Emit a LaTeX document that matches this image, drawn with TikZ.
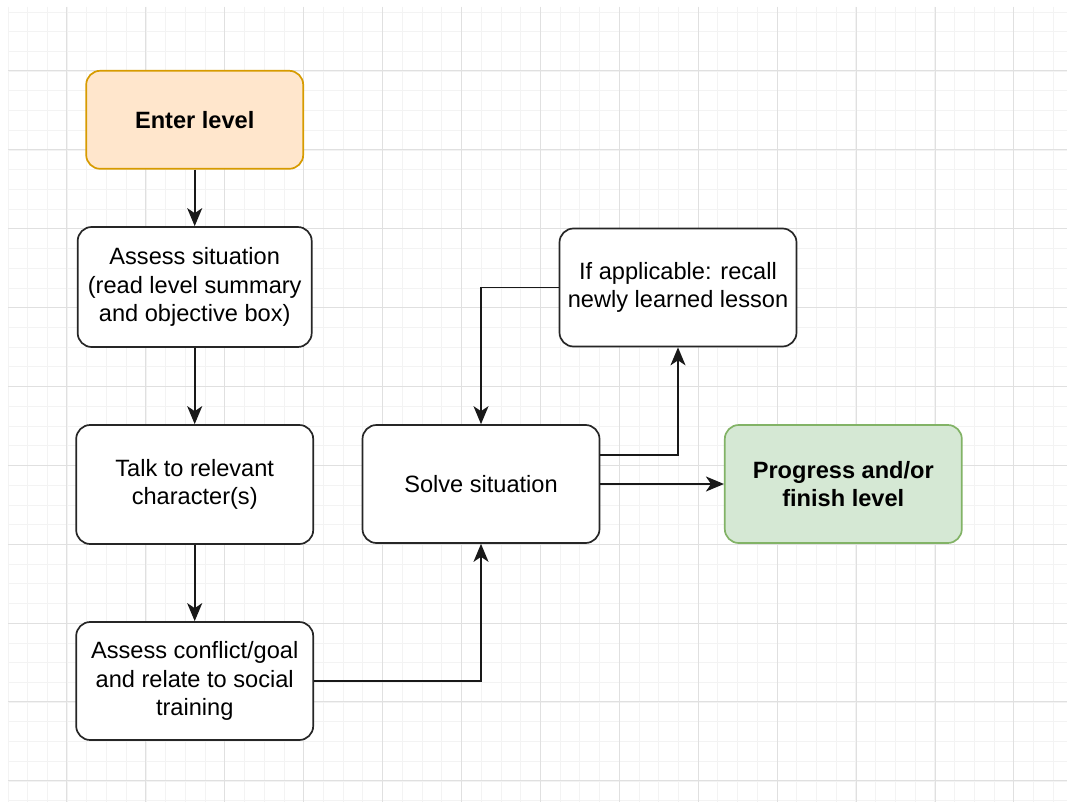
\documentclass[tikz,border=0pt]{standalone}
\usepackage{fontspec}
\setmainfont{Liberation Sans}
\usetikzlibrary{arrows.meta}
\definecolor{minorgrid}{HTML}{F3F3F3}
\definecolor{majorgrid}{HTML}{E0E0E0}
\definecolor{orangefill}{HTML}{FFE6CC}
\definecolor{orangedraw}{HTML}{D79B00}
\definecolor{greenfill}{HTML}{D5E8D4}
\definecolor{greendraw}{HTML}{82B366}
\begin{document}
\begin{tikzpicture}[x=1pt,y=-1pt,
  box/.style={draw=black!85, line width=1.7pt, rounded corners=14pt, fill=white,
    align=center, inner sep=0pt, minimum width=237pt, minimum height=118pt,
    font=\fontsize{23.6}{28.4}\selectfont},
  boldbox/.style={box, font=\fontsize{23.6}{28.4}\selectfont\bfseries},
  arr/.style={draw=black!90, line width=1.8pt, -{Stealth[length=18pt,width=15pt,inset=5pt]}},
  minorline/.style={minorgrid, line width=1pt},
  majorline/.style={majorgrid, line width=1.3pt}]
\useasboundingbox (0,0) rectangle (1067,802);
\fill[white] (0,0) rectangle (1067,802);
\begin{scope}
\clip (8,7) rectangle (1067,802);
\foreach \i in {0,...,54} \draw[minorline] ({round(7.5+\i*19.72)+0.5},7) -- ({round(7.5+\i*19.72)+0.5},802);
\foreach \j in {0,...,40} \draw[minorline] (8,{round(11.5+\j*19.72)+0.5}) -- (1067,{round(11.5+\j*19.72)+0.5});
\foreach \x in {66.5,145.5,224.5,303.5,382.5,461.5,540.5,619.5,698.5,777.5,856.5,935.5,1013.5}
  \draw[majorline] (\x,7) -- (\x,802);
\foreach \y in {70.5,149.5,228.5,307.5,386.5,465.5,544.5,623.5,701.5,780.5}
  \draw[majorline] (8,\y) -- (1067,\y);
\end{scope}

\node[boldbox, fill=orangefill, draw=orangedraw, minimum width=217pt, minimum height=98pt] (enter) at (194.7,119.8) {Enter level};
\node[box, minimum width=234pt, minimum height=120pt] (assess) at (194.7,287) {Assess situation\\(read level summary\\and objective box)};
\node[box, minimum height=119pt] (talk) at (194.7,484.5) {Talk to relevant\\character(s)};
\node[box] (conflict) at (194.7,681) {Assess conflict/goal\\and relate to social\\training};
\node[box] (solve) at (481,484) {Solve situation};
\node[box] (recall) at (678,287.5) {If applicable: recall\\newly learned lesson};
\node[boldbox, fill=greenfill, draw=greendraw] (progress) at (843.3,484) {Progress and/or\\finish level};

\draw[arr] (enter) -- (assess);
\draw[arr] (assess) -- (talk);
\draw[arr] (talk) -- (conflict);
\draw[arr] (conflict.east) -| (solve.south);
\draw[arr] ([yshift=29pt]solve.east) -| (recall.south);
\draw[arr] (recall.west) -| (solve.north);
\draw[arr] (solve.east) -- (progress.west);
\end{tikzpicture}
\end{document}
